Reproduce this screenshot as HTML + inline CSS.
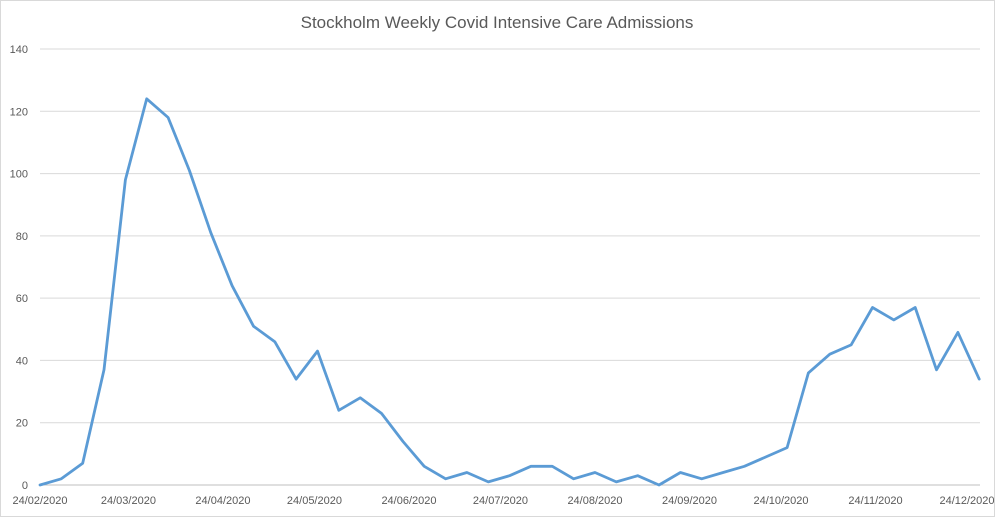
<!DOCTYPE html>
<html><head><meta charset="utf-8"><style>
body{margin:0;background:#fff;}
svg{display:block;font-family:"Liberation Sans",sans-serif;}
</style></head><body>
<svg id="chart" width="995" height="517">
<rect x="0.5" y="0.5" width="994" height="516" fill="#fff" stroke="#d9d9d9"/>
<text x="497" y="28" text-anchor="middle" font-size="17" fill="#595959">Stockholm Weekly Covid Intensive Care Admissions</text>
<g id="grid"></g><g id="yticks"></g><g id="xticks"></g><g id="series"></g>
</svg>
<script>
const yTicks=[0,20,40,60,80,100,120,140];
const xTickLabels=["24/02/2020","24/03/2020","24/04/2020","24/05/2020","24/06/2020","24/07/2020","24/08/2020","24/09/2020","24/10/2020","24/11/2020","24/12/2020"];
const xTickDays=[0,29,60,90,121,151,182,213,243,274,304];
const admissions=[0,2,7,37,98,124,118,101,81,64,51,46,34,43,24,28,23,14,6,2,4,1,3,6,6,2,4,1,3,0,4,2,4,6,9,12,36,42,45,57,53,57,37,49,34];
const NS="http://www.w3.org/2000/svg";
const x0=40,pxDay=927/304,yBase=485,yTop=49;
const xs=d=>x0+d*pxDay;
const ys=v=>yBase-v*(yBase-yTop)/140;
function mk(t,a,p){const e=document.createElementNS(NS,t);for(const k in a)e.setAttribute(k,a[k]);p.appendChild(e);return e;}
const grid=document.getElementById('grid'),yt=document.getElementById('yticks'),xt=document.getElementById('xticks'),se=document.getElementById('series');
yTicks.forEach(v=>{
 const l=mk('line',{x1:x0,x2:980,y1:ys(v),y2:ys(v),stroke:v===0?'#bfbfbf':'#d9d9d9','stroke-width':1},grid);
 
 
 const t=mk('text',{x:28,y:ys(v)+4,'text-anchor':'end','font-size':11,fill:'#595959'},yt);
 t.textContent=v;
 
 
});
xTickLabels.forEach((s,i)=>{
 const t=mk('text',{x:xs(xTickDays[i]),y:504,'text-anchor':'middle','font-size':11,fill:'#595959'},xt);
 t.textContent=s;
 
 
});
const pts=admissions.map((v,i)=>xs(i*7).toFixed(1)+','+ys(v).toFixed(1)).join(' ');
const pl=mk('polyline',{points:pts,fill:'none',stroke:'#5b9bd5','stroke-width':2.8,'stroke-linejoin':'round','stroke-linecap':'round'},se);


</script>
</body></html>
